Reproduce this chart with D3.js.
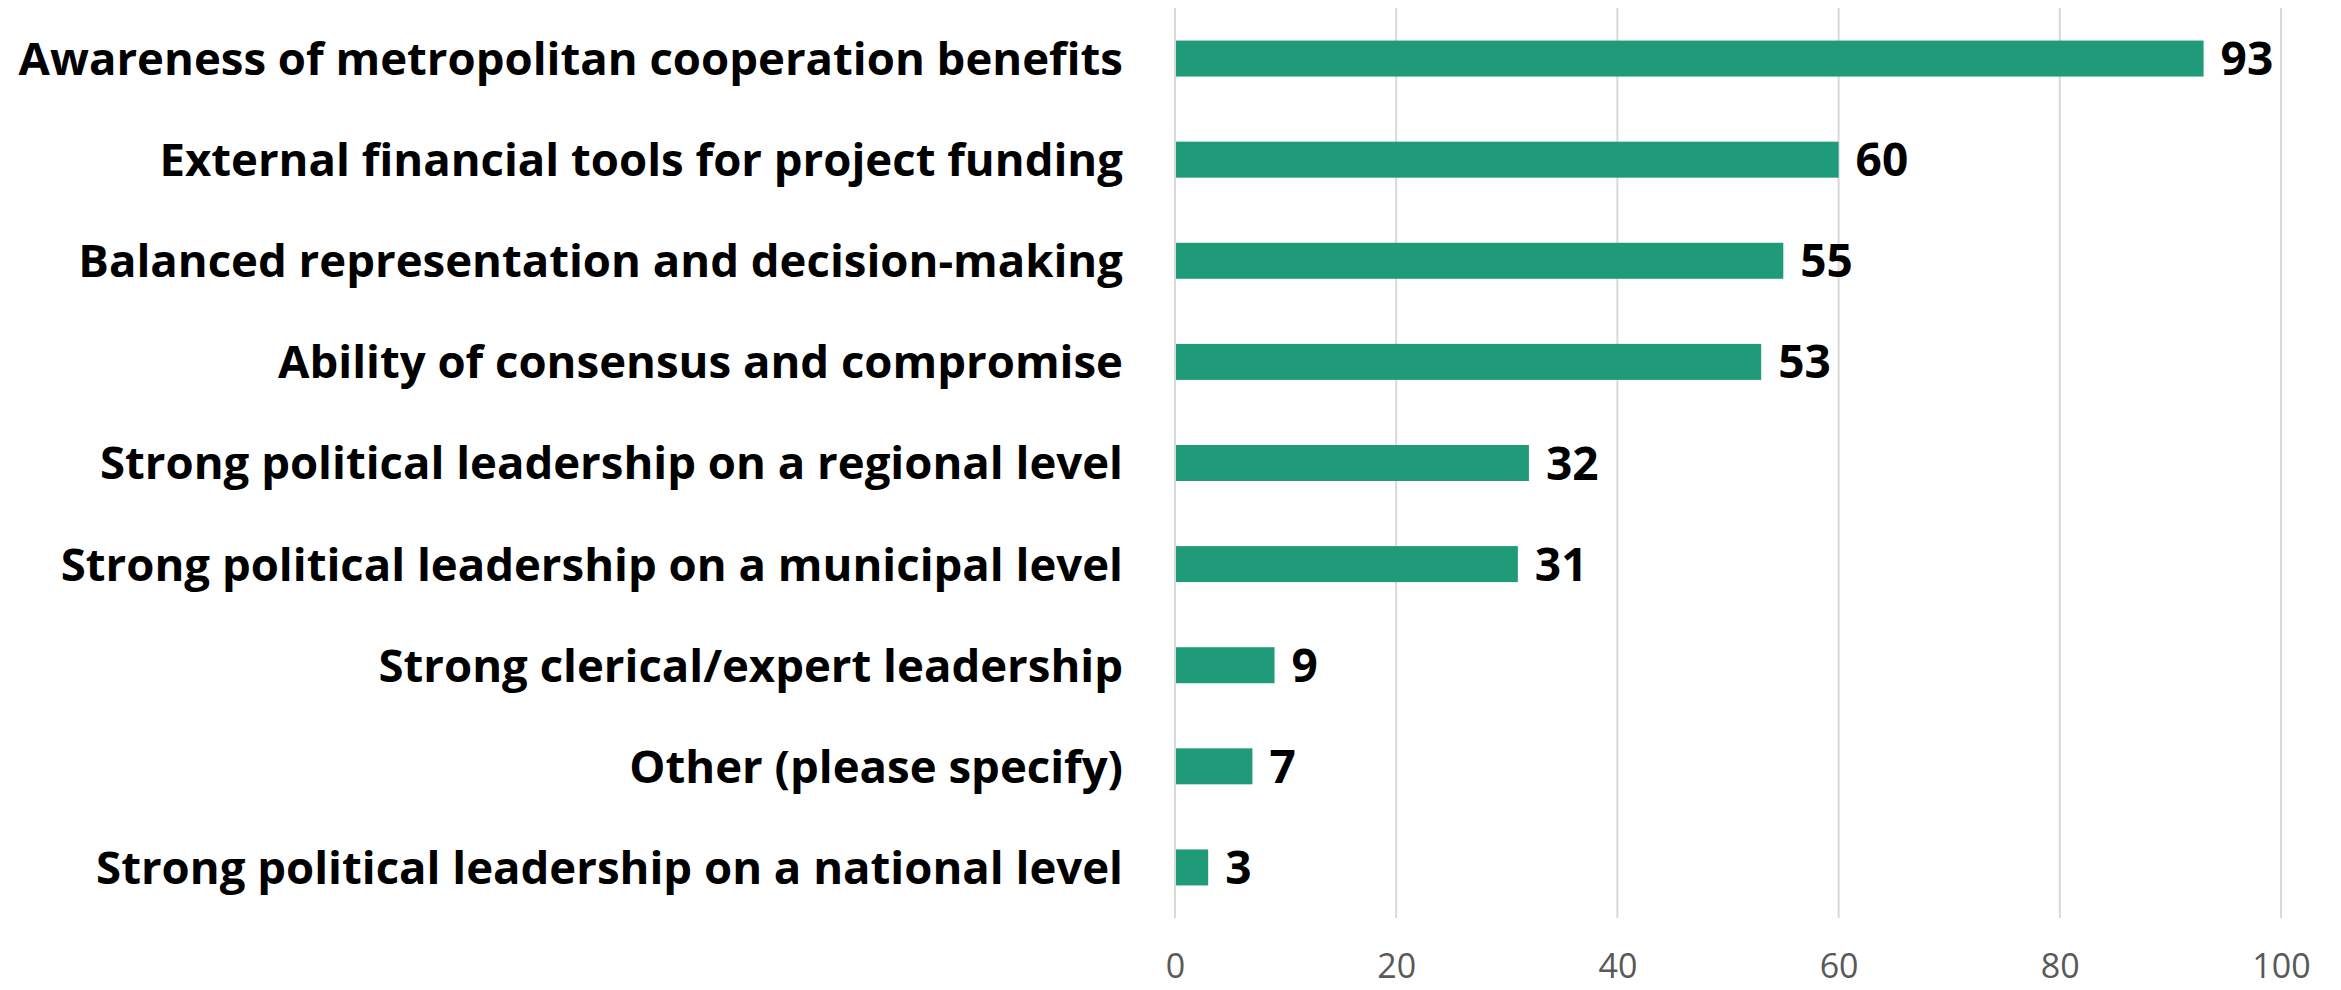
<!DOCTYPE html>
<html>
<head>
<meta charset="utf-8">
<script src="https://cdn.jsdelivr.net/npm/d3@7"></script>
<style>
    html, body { margin: 0; padding: 0; background: #fff; }
    svg { display: block; }
</style>
</head>
<body>
<div id="chart"></div>
<script>
const categories = [
    'Awareness of metropolitan cooperation benefits',
    'External financial tools for project funding',
    'Balanced representation and decision-making',
    'Ability of consensus and compromise',
    'Strong political leadership on a regional level',
    'Strong political leadership on a municipal level',
    'Strong clerical/expert leadership',
    'Other (please specify)',
    'Strong political leadership on a national level'
];
const values = [93, 60, 55, 53, 32, 31, 9, 7, 3];
const xTicks = [0, 20, 40, 60, 80, 100];

const config = {
    width: 2341,
    height: 990,
    padding: { top: 8, right: 60, bottom: 72, left: 1175 },
    barColor: '#1f9b79',
    gridColor: '#d9d9d9',
    font: '"Open Sans", "Liberation Sans", sans-serif'
};

const svg = d3.select('#chart').append('svg')
    .attr('width', config.width)
    .attr('height', config.height);

// x: 0..100 -> 1175..2281
const xScale = d3.scaleLinear()
    .domain([0, 100])
    .range([config.padding.left, 2281]);

const yScale = d3.scaleBand()
    .domain(categories)
    .range([config.padding.top, config.height - config.padding.bottom])
    .paddingInner(0.644)
    .paddingOuter(0.322);

// gridlines
svg.append('g')
    .selectAll('line')
    .data(xTicks)
    .enter()
    .append('line')
    .attr('x1', d => xScale(d))
    .attr('x2', d => xScale(d))
    .attr('y1', config.padding.top)
    .attr('y2', config.height - config.padding.bottom)
    .attr('stroke', config.gridColor)
    .attr('stroke-width', 2);

// bars
svg.append('g')
    .selectAll('rect')
    .data(values)
    .enter()
    .append('rect')
    .attr('x', xScale(0) + 1)
    .attr('y', (d, i) => yScale(categories[i]))
    .attr('width', d => xScale(d) - xScale(0) - 1)
    .attr('height', yScale.bandwidth())
    .attr('fill', config.barColor);

// value labels
svg.append('g')
    .selectAll('text')
    .data(values)
    .enter()
    .append('text')
    .attr('x', d => xScale(d) + 17)
    .attr('y', (d, i) => yScale(categories[i]) + yScale.bandwidth() / 2)
    .attr('dy', '0.36em')
    .attr('font-family', config.font)
    .attr('font-weight', 700)
    .attr('font-size', 46)
    .attr('fill', '#000')
    .text(d => d);

// category labels
const catLabels = svg.append('g')
    .selectAll('text')
    .data(categories)
    .enter()
    .append('text')
    .attr('x', config.padding.left - 52)
    .attr('y', d => yScale(d) + yScale.bandwidth() / 2)
    .attr('dy', '0.36em')
    .attr('text-anchor', 'end')
    .attr('font-family', config.font)
    .attr('font-weight', 700)
    .attr('font-size', 40)
    .attr('fill', '#000')
    .text(d => d);

// fit the longest label to the width used in the reference
const longest = d3.max(catLabels.nodes(), n => n.getComputedTextLength());
const fitSize = 40 * 1105 / longest;
catLabels.attr('font-size', fitSize);

// x axis labels
const xAxis = d3.axisBottom(xScale).tickValues(xTicks).tickSize(0).tickPadding(0);
const xAxisLine = svg.append('g')
    .attr('transform', 'translate(0,' + (config.height - config.padding.bottom) + ')')
    .call(xAxis);
xAxisLine.select('.domain').remove();
xAxisLine.selectAll('text')
    .attr('y', 60)
    .attr('dy', 0)
    .attr('font-family', config.font)
    .attr('font-size', 34)
    .attr('fill', '#595959');
</script>
</body>
</html>
